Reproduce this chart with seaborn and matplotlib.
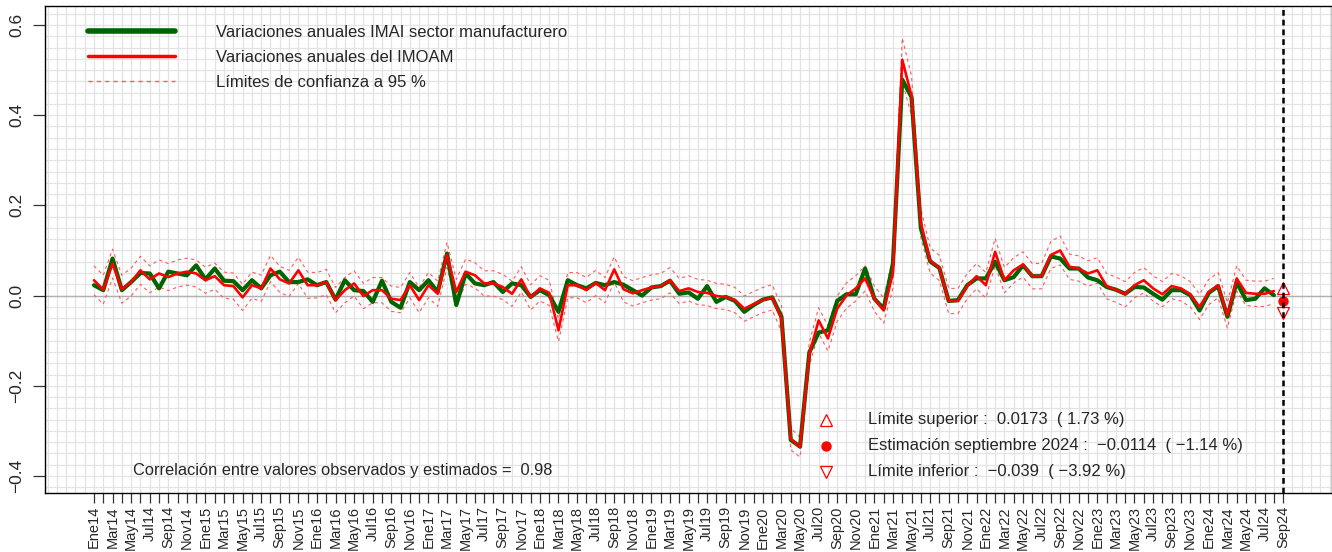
import matplotlib
matplotlib.use("Agg")
import numpy as np
import pandas as pd
import matplotlib.pyplot as plt
from matplotlib.lines import Line2D
from matplotlib.ticker import MultipleLocator
import seaborn as sns

sns.set_style("white")
plt.rcParams["font.family"] = ["Liberation Sans", "DejaVu Sans"]

# Meses (Ene14 .. Sep24)
meses_abrev = ["Ene", "Feb", "Mar", "Abr", "May", "Jun", "Jul", "Ago", "Sep", "Oct", "Nov", "Dic"]
anios = ["14", "15", "16", "17", "18", "19", "20", "21", "22", "23", "24"]
etiquetas = [m + a for a in anios for m in meses_abrev][:129]

# Variaciones anuales IMAI sector manufacturero (Ene14 .. Ago24)
imai = [
    0.023, 0.012, 0.082, 0.012, 0.030, 0.050, 0.049, 0.016, 0.053, 0.049, 0.045, 0.067,
    0.036, 0.060, 0.033, 0.032, 0.012, 0.034, 0.016, 0.045, 0.053, 0.030, 0.030, 0.036,
    0.023, 0.030, -0.009, 0.034, 0.012, 0.010, -0.014, 0.033, -0.014, -0.027, 0.030, 0.012,
    0.034, 0.008, 0.093, -0.021, 0.049, 0.027, 0.023, 0.030, 0.008, 0.027, 0.023, -0.003,
    0.012, 0.001, -0.036, 0.034, 0.023, 0.016, 0.028, 0.023, 0.030, 0.024, 0.012, 0.000,
    0.018, 0.021, 0.033, 0.004, 0.007, -0.007, 0.021, -0.014, -0.003, -0.012, -0.036, -0.021,
    -0.009, -0.004, -0.047, -0.320, -0.335, -0.126, -0.082, -0.077, -0.012, 0.003, 0.003, 0.060,
    -0.007, -0.029, 0.071, 0.479, 0.440, 0.150, 0.076, 0.061, -0.012, -0.010, 0.023, 0.038,
    0.038, 0.075, 0.034, 0.041, 0.067, 0.043, 0.043, 0.087, 0.082, 0.060, 0.060, 0.040,
    0.034, 0.019, 0.013, 0.004, 0.019, 0.018, 0.004, -0.009, 0.012, 0.012, 0.001, -0.033,
    0.006, 0.021, -0.047, 0.030, -0.010, -0.007, 0.016, 0.001,
]

# Variaciones anuales del IMOAM
imoam = [
    0.034, 0.013, 0.071, 0.014, 0.030, 0.056, 0.036, 0.049, 0.041, 0.049, 0.053, 0.049,
    0.034, 0.043, 0.023, 0.021, -0.004, 0.023, 0.016, 0.060, 0.036, 0.027, 0.056, 0.023,
    0.023, 0.030, -0.010, 0.012, 0.027, -0.001, 0.012, 0.012, -0.007, -0.010, 0.023, -0.010,
    0.023, 0.004, 0.090, 0.008, 0.053, 0.045, 0.027, 0.027, 0.019, 0.004, 0.036, -0.004,
    0.016, 0.006, -0.077, 0.023, 0.023, 0.012, 0.028, 0.012, 0.058, 0.014, 0.005, 0.012,
    0.018, 0.021, 0.034, 0.010, 0.016, 0.008, 0.006, -0.001, -0.003, -0.010, -0.029, -0.019,
    -0.010, -0.004, -0.051, -0.318, -0.336, -0.130, -0.055, -0.095, -0.029, 0.000, 0.016, 0.038,
    -0.007, -0.033, 0.050, 0.523, 0.443, 0.161, 0.078, 0.061, -0.012, -0.012, 0.021, 0.043,
    0.023, 0.097, 0.034, 0.056, 0.069, 0.043, 0.043, 0.090, 0.100, 0.064, 0.060, 0.049,
    0.056, 0.021, 0.013, 0.003, 0.023, 0.034, 0.016, 0.003, 0.021, 0.016, 0.003, -0.025,
    0.008, 0.023, -0.044, 0.038, 0.006, 0.004, 0.004, 0.010,
]

# Semiamplitud del intervalo de confianza a 95 %
semi_ancho = [
    0.032, 0.032, 0.032, 0.031, 0.031, 0.031, 0.030, 0.030, 0.030, 0.030, 0.030, 0.030,
    0.029, 0.029, 0.029, 0.029, 0.029, 0.029, 0.029, 0.029, 0.029, 0.029, 0.029, 0.029,
    0.028, 0.028, 0.028, 0.028, 0.028, 0.028, 0.028, 0.028, 0.028, 0.028, 0.028, 0.028,
    0.028, 0.028, 0.028, 0.028, 0.028, 0.028, 0.028, 0.028, 0.028, 0.028, 0.028, 0.028,
    0.028, 0.028, 0.025, 0.028, 0.028, 0.028, 0.028, 0.028, 0.028, 0.028, 0.028, 0.028,
    0.028, 0.028, 0.028, 0.028, 0.028, 0.028, 0.028, 0.028, 0.028, 0.028, 0.028, 0.028,
    0.028, 0.028, 0.028, 0.024, 0.022, 0.026, 0.028, 0.028, 0.028, 0.028, 0.028, 0.028,
    0.028, 0.028, 0.034, 0.048, 0.044, 0.032, 0.028, 0.028, 0.028, 0.028, 0.028, 0.028,
    0.028, 0.030, 0.028, 0.028, 0.028, 0.028, 0.028, 0.030, 0.032, 0.028, 0.028, 0.028,
    0.028, 0.028, 0.028, 0.028, 0.028, 0.028, 0.028, 0.028, 0.028, 0.028, 0.028, 0.028,
    0.028, 0.028, 0.028, 0.028, 0.028, 0.028, 0.028, 0.028,
]

# Estimación septiembre 2024
estimacion = -0.0114
lim_sup = 0.0173
lim_inf = -0.039
correlacion = 0.98

df = pd.DataFrame({
    "t": np.arange(len(imai)),
    "imai": imai,
    "imoam": imoam,
})
df["sup"] = df["imoam"] + np.array(semi_ancho)
df["inf"] = df["imoam"] - np.array(semi_ancho)
t_est = len(etiquetas) - 1

verde = "#006400"
rojo = "#ff0000"
rosa = "#ff5a5a"

fig = plt.figure(figsize=(13.32, 5.52), dpi=100)
ax = fig.add_axes([0.0338, 0.1069, 0.9662, 0.8822])

# rejilla
ax.xaxis.set_minor_locator(MultipleLocator(1))
ax.yaxis.set_minor_locator(MultipleLocator(0.025))
ax.grid(which="both", color="#e3e3e3", lw=0.9)
ax.set_axisbelow(True)
ax.axhline(0, color="#b0b0b0", lw=1, zorder=1)

# series
sns.lineplot(data=df, x="t", y="sup", color=rosa, lw=0.8, linestyle=(0, (3, 3)), ax=ax)
sns.lineplot(data=df, x="t", y="inf", color=rosa, lw=0.8, linestyle=(0, (3, 3)), ax=ax)
sns.lineplot(data=df, x="t", y="imai", color=verde, lw=3.0, ax=ax)
sns.lineplot(data=df, x="t", y="imoam", color=rojo, lw=1.9, ax=ax)

# estimación
ax.axvline(t_est, color="black", lw=1.8, ls=(0, (2.3, 1.6)), zorder=5)
ax.plot([t_est], [lim_sup], marker="^", ls="none", mfc="none", mec=rojo, ms=8, mew=0.9)
ax.plot([t_est], [estimacion], marker="o", ls="none", color=rojo, ms=6.5)
ax.plot([t_est], [lim_inf], marker="v", ls="none", mfc="none", mec=rojo, ms=8, mew=0.9)

ax.set_xlim(-5.27, 133.26)
ax.set_ylim(-0.4377, 0.642)

ax.set_xticks(range(len(etiquetas)))
ax.set_xticklabels([e if k % 2 == 0 else "" for k, e in enumerate(etiquetas)])
ax.set_yticks([-0.4, -0.2, 0.0, 0.2, 0.4, 0.6])
ax.tick_params(axis="x", which="major", length=7, width=0.9, pad=2.5,
               labelsize=10.5, labelrotation=90, color="#333333", bottom=True)
ax.tick_params(axis="y", which="major", length=9, width=0.9, pad=6,
               labelsize=12.5, color="#333333", left=True)
ax.tick_params(which="minor", length=0)
plt.setp(ax.get_yticklabels(), rotation=90, va="center")
ax.set_xlabel("")
ax.set_ylabel("")
for s in ax.spines.values():
    s.set_color("black")
    s.set_linewidth(1)

# leyenda
handles = [
    Line2D([], [], color=verde, lw=4),
    Line2D([], [], color=rojo, lw=2.5),
    Line2D([], [], color=rosa, lw=1.0, ls=(0, (3, 3))),
]
labels = [
    "Variaciones anuales IMAI sector manufacturero",
    "Variaciones anuales del IMOAM",
    "Límites de confianza a 95 %",
]
ax.legend(handles, labels, loc="upper left", bbox_to_anchor=(0.0334, 0.962),
          frameon=False, fontsize=12, handlelength=5.2, handletextpad=2.5,
          labelspacing=0.62, borderpad=0, borderaxespad=0)

# textos de la estimación
ax.plot([0.607], [0.150], marker="^", ls="none", mfc="none", mec=rojo, ms=8, mew=0.9,
        transform=ax.transAxes)
ax.plot([0.607], [0.0965], marker="o", ls="none", color=rojo, ms=6.5, transform=ax.transAxes)
ax.plot([0.607], [0.044], marker="v", ls="none", mfc="none", mec=rojo, ms=8, mew=0.9,
        transform=ax.transAxes)

def fmt(v):
    return f"{v}".replace("-", "\u2212")

ax.text(0.6395, 0.150, f"Límite superior :  {fmt(lim_sup)}  ( {fmt(round(lim_sup * 100, 2))} %)",
        transform=ax.transAxes, va="center", fontsize=12)
ax.text(0.6395, 0.0965, f"Estimación septiembre 2024 :  {fmt(estimacion)}  ( {fmt(round(estimacion * 100, 2))} %)",
        transform=ax.transAxes, va="center", fontsize=12)
ax.text(0.6395, 0.044, f"Límite inferior :  {fmt(lim_inf)}  ( −3.92 %)",
        transform=ax.transAxes, va="center", fontsize=12)
ax.text(0.0684, 0.047, f"Correlación entre valores observados y estimados =  {correlacion}",
        transform=ax.transAxes, va="center", fontsize=11.8)

fig.savefig("out.png", dpi=100)
